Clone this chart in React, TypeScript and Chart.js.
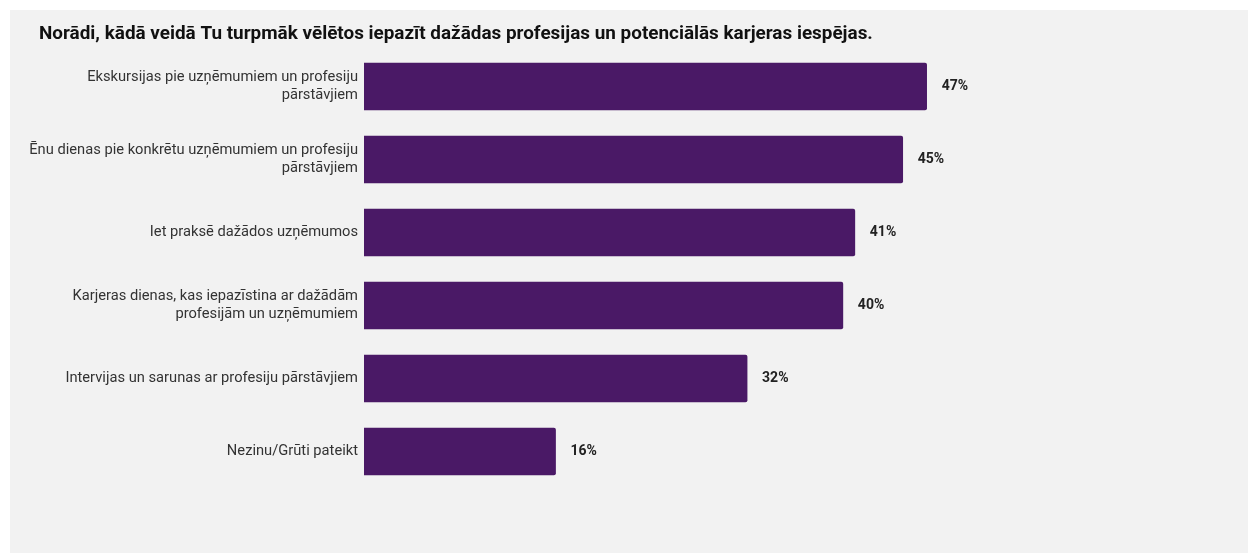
import React, { useEffect, useRef } from "react";
import { Chart, registerables } from "chart.js";

Chart.register(...registerables);

const titleText = "Norādi, kādā veidā Tu turpmāk vēlētos iepazīt dažādas profesijas un potenciālās karjeras iespējas.";

const categories: (string | string[])[] = [
  ["Ekskursijas pie uzņēmumiem un profesiju", "pārstāvjiem"],
  ["Ēnu dienas pie konkrētu uzņēmumiem un profesiju", "pārstāvjiem"],
  "Iet praksē dažādos uzņēmumos",
  ["Karjeras dienas, kas iepazīstina ar dažādām", "profesijām un uzņēmumiem"],
  "Intervijas un sarunas ar profesiju pārstāvjiem",
  "Nezinu/Grūti pateikt",
];

const values: number[] = [47, 45, 41, 40, 32, 16];

const valueLabelPlugin = {
  id: "valueLabels",
  afterDatasetsDraw(chart: any) {
    const ctx = chart.ctx;
    const meta = chart.getDatasetMeta(0);
    ctx.save();
    ctx.font = "bold 14px Roboto";
    ctx.fillStyle = "#222222";
    ctx.textAlign = "left";
    ctx.textBaseline = "middle";
    meta.data.forEach((bar: any, i: number) => {
      ctx.fillText(values[i] + "%", bar.x + 15, bar.y);
    });
    ctx.restore();
  },
};

const titlePlugin = {
  id: "leftTitle",
  afterDraw(chart: any) {
    const ctx = chart.ctx;
    ctx.save();
    ctx.font = "bold 18.9px Roboto";
    ctx.fillStyle = "#111111";
    ctx.textAlign = "left";
    ctx.textBaseline = "alphabetic";
    ctx.fillText(titleText, 29, 29);
    ctx.restore();
  },
};

export default function App() {
  const canvasRef = useRef<HTMLCanvasElement | null>(null);

  useEffect(() => {
    document.body.style.margin = "0";
    const canvas = canvasRef.current;
    if (!canvas) return;
    const chart = new Chart(canvas, {
      type: "bar",
      data: {
        labels: categories,
        datasets: [
          {
            data: values,
            backgroundColor: "#4a1966",
            borderWidth: 0,
            borderRadius: 2,
            barThickness: 47,
          },
        ],
      },
      options: {
        indexAxis: "y",
        animation: false,
        responsive: false,
        maintainAspectRatio: false,
        layout: { padding: { left: 0, right: 46, top: 40, bottom: 65 } },
        plugins: {
          legend: { display: false },
          tooltip: { enabled: false },
          title: { display: false },
        },
        scales: {
          x: {
            display: false,
            min: 0,
            max: 70,
          },
          y: {
            grid: { display: false, drawTicks: false },
            border: { display: false },
            ticks: {
              color: "#333333",
              padding: 6,
              font: { family: "Roboto", size: 14.7, lineHeight: 1.2 },
            },
            afterFit(scale: any) {
              scale.width = 354;
            },
          },
        },
      },
      plugins: [valueLabelPlugin, titlePlugin],
    });
    return () => chart.destroy();
  }, []);

  return (
    <div
      style={{
        position: "absolute",
        left: 10,
        top: 10,
        width: 1238,
        height: 543,
        background: "#f2f2f2",
      }}
    >
      <canvas ref={canvasRef} width={1238} height={543} style={{ display: "block" }} />
    </div>
  );
}
